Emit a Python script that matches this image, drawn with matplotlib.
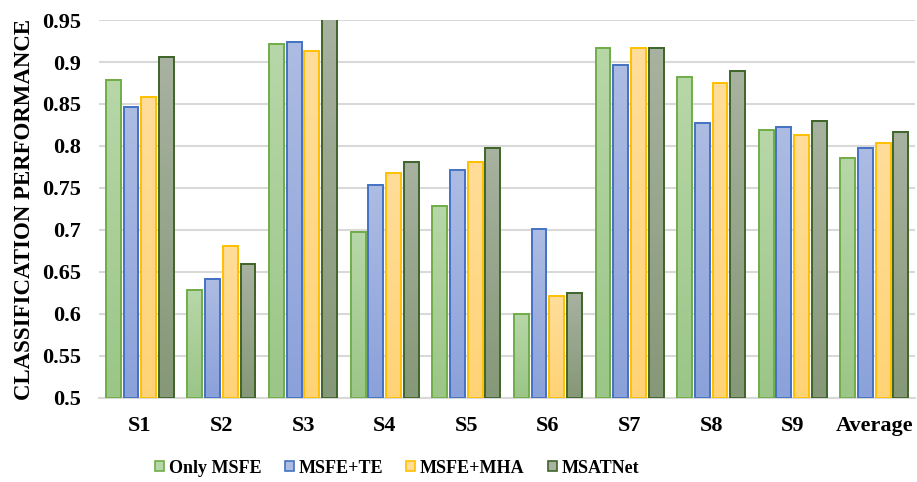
import numpy as np
import matplotlib
matplotlib.use("Agg")
import matplotlib.pyplot as plt
from matplotlib.colors import LinearSegmentedColormap
from matplotlib.patches import Patch

categories = ["S1", "S2", "S3", "S4", "S5", "S6", "S7", "S8", "S9", "Average"]
series_names = ["Only MSFE", "MSFE+TE", "MSFE+MHA", "MSATNet"]
only_msfe = [0.879, 0.629, 0.921, 0.698, 0.729, 0.600, 0.917, 0.882, 0.819, 0.786]
msfe_te = [0.847, 0.642, 0.924, 0.754, 0.771, 0.701, 0.896, 0.827, 0.823, 0.798]
msfe_mha = [0.858, 0.681, 0.913, 0.768, 0.781, 0.621, 0.917, 0.875, 0.813, 0.803]
msatnet = [0.906, 0.660, 0.958, 0.781, 0.798, 0.625, 0.917, 0.889, 0.830, 0.817]
y_ticks = [0.5, 0.55, 0.6, 0.65, 0.7, 0.75, 0.8, 0.85, 0.9, 0.95]
y_tick_labels = ["0.5", "0.55", "0.6", "0.65", "0.7", "0.75", "0.8", "0.85", "0.9", "0.95"]

# (top colour, bottom colour, edge colour) for each series
styles = [
    ("#b7d7a8", "#9bc687", "#70ad47"),
    ("#adbce3", "#8aa1da", "#4472c4"),
    ("#ffdd9a", "#ffd375", "#ffc000"),
    ("#a8b2a0", "#859877", "#3f6428"),
]

plt.rcParams["font.family"] = ["Liberation Serif", "DejaVu Serif"]
plt.rcParams["font.weight"] = "bold"

fig = plt.figure(figsize=(9.17, 4.82), dpi=100)
ax = fig.add_axes([0.108, 0.1743, 0.890, 0.7842])

x = np.arange(len(categories))
step = 0.217
width = 0.182
all_series = [only_msfe, msfe_te, msfe_mha, msatnet]
ymin, ymax = 0.5, 0.95

grad = np.linspace(0, 1, 256).reshape(-1, 1)
for i, (vals, (top, bot, edge)) in enumerate(zip(all_series, styles)):
    offs = (i - 1.5) * step
    bars = ax.bar(x + offs, np.array(vals) - ymin, width, bottom=ymin,
                  facecolor="none", edgecolor=edge, linewidth=1.4, zorder=3)
    cmap = LinearSegmentedColormap.from_list(f"g{i}", [bot, top])
    for b, v in zip(bars, vals):
        x0 = b.get_x()
        im = ax.imshow(grad, cmap=cmap, origin="lower", aspect="auto",
                       extent=(x0, x0 + width, ymin, v), zorder=2,
                       interpolation="bilinear")
        im.set_clip_path(b)
        im.set_clip_box(ax.bbox)

ax.set_xlim(-0.5, len(categories) - 0.5)
ax.set_ylim(ymin, ymax)
ax.set_yticks(y_ticks)
ax.set_yticklabels(y_tick_labels)
ax.set_xticks(x)
ax.set_xticklabels(categories)
ax.tick_params(axis="both", length=0, labelsize=16)
ax.tick_params(axis="y", pad=13)
ax.tick_params(axis="x", pad=13)
for lab in ax.get_xticklabels() + ax.get_yticklabels():
    lab.set_fontweight("bold")

ax.grid(axis="y", color="#d9d9d9", linewidth=1.5, zorder=0)
ax.set_axisbelow(True)
for s in ["top", "right", "left"]:
    ax.spines[s].set_visible(False)
ax.spines["bottom"].set_color("#d9d9d9")
ax.spines["bottom"].set_linewidth(1.5)

ax.set_ylabel("CLASSIFICATION PERFORMANCE", fontsize=16.5, fontweight="bold",
              labelpad=5)

handles = [Patch(facecolor=t, edgecolor=e, linewidth=1.2) for (t, b, e) in styles]
fig.legend(handles, series_names, loc="center", bbox_to_anchor=(0.433, 0.029),
           ncol=4, frameon=False, handlelength=0.5, handleheight=0.5,
           handletextpad=0.25, columnspacing=1.3,
           prop={"weight": "bold", "size": 13})

fig.savefig("out.png", dpi=100)
